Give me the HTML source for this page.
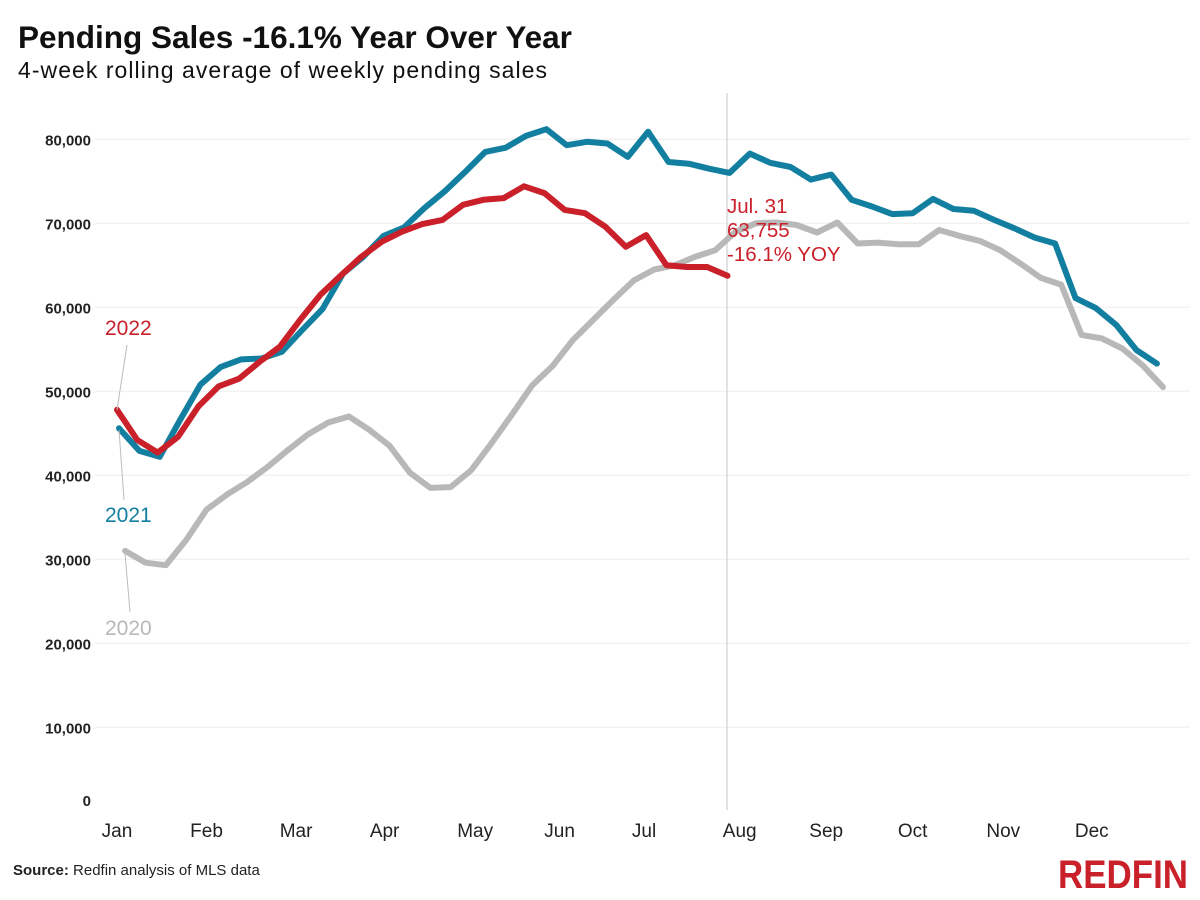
<!DOCTYPE html>
<html><head><meta charset="utf-8">
<style>
body{margin:0;background:#fff;}
svg{display:block;font-family:"Liberation Sans",sans-serif;}
</style></head>
<body>
<svg id="chart" width="1200" height="900" viewBox="0 0 1200 900">
<text x="18" y="48" font-size="31.5" font-weight="bold" fill="#111">Pending Sales -16.1% Year Over Year</text>
<text x="18" y="78" font-size="23" fill="#111" textLength="529" lengthAdjust="spacing">4-week rolling average of weekly pending sales</text>
<g id="grid"></g>
<g id="yaxis"></g>
<g id="xaxis"></g>
<line x1="727" y1="93" x2="727" y2="810" stroke="#d8d8d8" stroke-width="1.5"/>
<g id="series"></g>
<line x1="127" y1="345" x2="117" y2="410" stroke="#bbb" stroke-width="1"/>
<line x1="124" y1="500" x2="119" y2="430" stroke="#bbb" stroke-width="1"/>
<line x1="130" y1="612" x2="125" y2="553" stroke="#bbb" stroke-width="1"/>
<text x="105" y="335" font-size="21" fill="#c9202a">2022</text>
<text x="105" y="522" font-size="21" fill="#137fa0">2021</text>
<text x="105" y="635" font-size="21" fill="#b8b8b8">2020</text>
<g font-size="20.5" fill="#c9202a">
<text x="727" y="213">Jul. 31</text>
<text x="727" y="237">63,755</text>
<text x="727" y="261">-16.1% YOY</text>
</g>
<text x="13" y="875" font-size="15" fill="#222"><tspan font-weight="bold">Source:</tspan> Redfin analysis of MLS data</text>
<text x="1058" y="888" font-size="40" font-weight="bold" fill="#c9202a" textLength="130" lengthAdjust="spacingAndGlyphs">REDFIN</text>
</svg>
<script>
const months = ["Jan","Feb","Mar","Apr","May","Jun","Jul","Aug","Sep","Oct","Nov","Dec"];
const monthPos = [0,4.4,8.8,13.15,17.6,21.75,25.9,30.6,34.85,39.1,43.55,47.9];
const yTicks = [0,10000,20000,30000,40000,50000,60000,70000,80000];
const yTickLabels = ["0","10,000","20,000","30,000","40,000","50,000","60,000","70,000","80,000"];
const sales2022 = [47.8,44.2,42.7,44.6,48.2,50.6,51.5,53.5,55.3,58.5,61.5,63.8,66.0,67.8,69.0,69.9,70.4,72.2,72.8,73.0,74.4,73.6,71.6,71.2,69.6,67.2,68.6,65.0,64.8,64.8,63.755];
const sales2021 = [45.6,42.9,42.2,46.6,50.8,52.9,53.8,53.9,54.7,57.3,59.8,64.0,66.0,68.5,69.5,71.8,73.8,76.1,78.5,79.0,80.4,81.2,79.3,79.7,79.5,77.9,80.9,77.3,77.1,76.5,76.0,78.3,77.2,76.7,75.2,75.8,72.8,72.0,71.1,71.2,72.9,71.7,71.5,70.4,69.4,68.3,67.6,61.1,59.9,57.9,54.9,53.3];
const sales2020 = [31.0,29.6,29.3,32.3,35.9,37.7,39.2,41.0,43.0,44.9,46.3,47.0,45.4,43.5,40.3,38.5,38.6,40.6,43.8,47.2,50.7,53.0,56.1,58.5,60.9,63.2,64.5,65.0,66.0,66.8,69.0,70.0,70.1,69.8,68.9,70.1,67.6,67.7,67.5,67.5,69.2,68.5,67.9,66.8,65.2,63.5,62.7,56.7,56.3,55.1,53.1,50.5];
const weekShift2022 = 0, weekShift2021 = 0.1, weekShift2020 = 0.4;

const NS="http://www.w3.org/2000/svg";
const x = w => 117 + w*20.35;
const y = v => 811.3 - v*0.0084;
function mk(tag, attrs, parent){const e=document.createElementNS(NS,tag);for(const k in attrs)e.setAttribute(k,attrs[k]);parent.appendChild(e);return e;}
const grid=document.getElementById('grid'), ya=document.getElementById('yaxis'), xa=document.getElementById('xaxis'), ser=document.getElementById('series');
yTicks.forEach((t,i)=>{
  if(t>0){const g=mk('line',{x1:95,x2:1190,y1:y(t),y2:y(t),stroke:'#eeeeee','stroke-width':1},grid);
  
  }
  const lb=mk('text',{x:91,y:(t===0?806:y(t)+6),'text-anchor':'end','font-size':15,'font-weight':'bold',fill:'#222'},ya);
  lb.textContent=yTickLabels[i];
  
  
});
months.forEach((m,i)=>{
  const t=mk('text',{x:x(monthPos[i]),y:837,'text-anchor':'middle','font-size':19,fill:'#222'},xa);
  t.textContent=m;
  
  
});
function line(data, shift, color, name){
  const d=data.map((v,i)=>(i?'L':'M')+x(i+shift).toFixed(1)+' '+y(v*1000).toFixed(1)).join(' ');
  const p=mk('path',{d:d,fill:'none',stroke:color,'stroke-width':6,'stroke-linejoin':'round','stroke-linecap':'round'},ser);
  
  
}
line(sales2020, weekShift2020, '#b8b8b8', 'line-2020');
line(sales2021, weekShift2021, '#137fa0', 'line-2021');
line(sales2022, weekShift2022, '#c9202a', 'line-2022');
</script>
</body></html>
